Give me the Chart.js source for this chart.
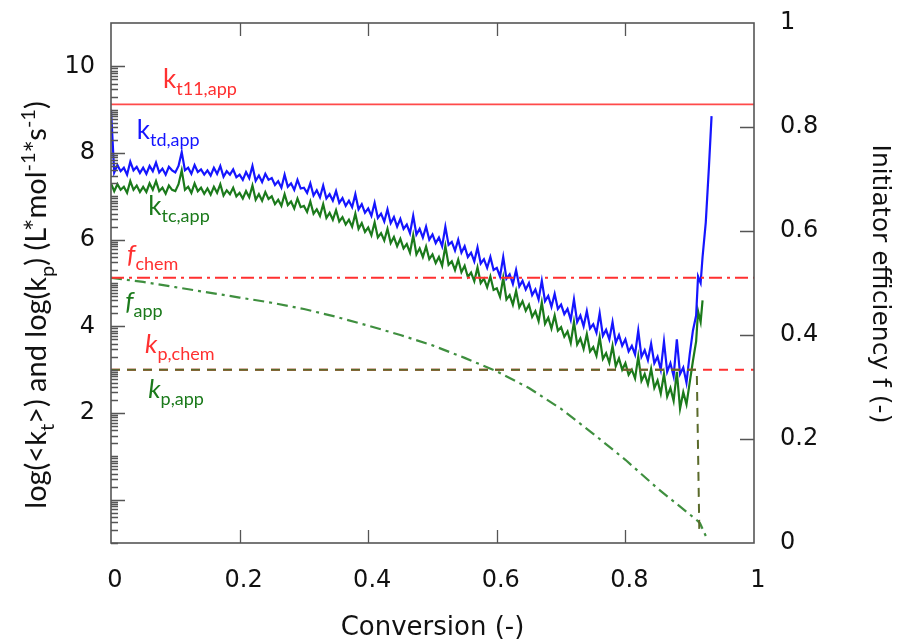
<!DOCTYPE html>
<html>
<head>
<meta charset="utf-8">
<script src="https://cdn.jsdelivr.net/npm/chart.js"></script>
<style>
  html, body { margin: 0; background: #fff; }
  #wrap { width: 901px; height: 641px; position: relative; }
</style>
</head>
<body>
<div id="wrap"><canvas id="c"></canvas></div>
<script>
// --- data ---
// left axis: log(k) values, right axis: initiator efficiency f
const kt11App = 9.12;
const fChem = 0.51;
const kpChem = 3.0;

// conversion grid shared by the two noisy kt curves (0 .. 0.895)
const convGrid = [
  0.000, 0.005, 0.010, 0.015, 0.020, 0.025, 0.030, 0.035, 0.040, 0.045,
  0.050, 0.055, 0.060, 0.065, 0.070, 0.075, 0.080, 0.085, 0.090, 0.095,
  0.100, 0.105, 0.110, 0.115, 0.120, 0.125, 0.130, 0.135, 0.140, 0.145,
  0.150, 0.155, 0.160, 0.165, 0.170, 0.175, 0.180, 0.185, 0.190, 0.195,
  0.200, 0.205, 0.210, 0.215, 0.220, 0.225, 0.230, 0.235, 0.240, 0.245,
  0.250, 0.255, 0.260, 0.265, 0.270, 0.275, 0.280, 0.285, 0.290, 0.295,
  0.300, 0.305, 0.310, 0.315, 0.320, 0.325, 0.330, 0.335, 0.340, 0.345,
  0.350, 0.355, 0.360, 0.365, 0.370, 0.375, 0.380, 0.385, 0.390, 0.395,
  0.400, 0.405, 0.410, 0.415, 0.420, 0.425, 0.430, 0.435, 0.440, 0.445,
  0.450, 0.455, 0.460, 0.465, 0.470, 0.475, 0.480, 0.485, 0.490, 0.495,
  0.500, 0.505, 0.510, 0.515, 0.520, 0.525, 0.530, 0.535, 0.540, 0.545,
  0.550, 0.555, 0.560, 0.565, 0.570, 0.575, 0.580, 0.585, 0.590, 0.595,
  0.600, 0.605, 0.610, 0.615, 0.620, 0.625, 0.630, 0.635, 0.640, 0.645,
  0.650, 0.655, 0.660, 0.665, 0.670, 0.675, 0.680, 0.685, 0.690, 0.695,
  0.700, 0.705, 0.710, 0.715, 0.720, 0.725, 0.730, 0.735, 0.740, 0.745,
  0.750, 0.755, 0.760, 0.765, 0.770, 0.775, 0.780, 0.785, 0.790, 0.795,
  0.800, 0.805, 0.810, 0.815, 0.820, 0.825, 0.830, 0.835, 0.840, 0.845,
  0.850, 0.855, 0.860, 0.865, 0.870, 0.875, 0.880, 0.885, 0.890, 0.895];

// k_td,app (blue) on convGrid, then the steep rise at the end
const ktdY = [
  9.00, 7.55, 7.72, 7.58, 7.66, 7.50, 7.80, 7.60, 7.68, 7.54,
  7.66, 7.52, 7.70, 7.58, 7.78, 7.55, 7.64, 7.50, 7.68, 7.60,
  7.55, 7.70, 8.02, 7.60, 7.66, 7.52, 7.72, 7.56, 7.62, 7.50,
  7.60, 7.48, 7.66, 7.52, 7.70, 7.45, 7.58, 7.50, 7.62, 7.44,
  7.50, 7.38, 7.56, 7.42, 7.70, 7.36, 7.48, 7.33, 7.52, 7.38,
  7.42, 7.26, 7.35, 7.20, 7.50, 7.22, 7.30, 7.15, 7.38, 7.18,
  7.20, 7.08, 7.30, 7.02, 7.14, 6.98, 7.25, 6.95, 7.05, 6.90,
  7.12, 6.85, 6.96, 6.78, 6.90, 6.75, 7.05, 6.70, 6.82, 6.62,
  6.72, 6.55, 6.85, 6.50, 6.60, 6.42, 6.70, 6.38, 6.52, 6.30,
  6.48, 6.25, 6.35, 6.15, 6.55, 6.12, 6.25, 6.05, 6.30, 6.00,
  6.12, 5.92, 6.05, 5.85, 6.30, 5.88, 5.95, 5.75, 6.00, 5.70,
  5.85, 5.60, 5.70, 5.50, 5.82, 5.45, 5.55, 5.35, 5.60, 5.30,
  5.35, 5.15, 5.60, 5.10, 5.20, 4.98, 5.30, 4.92, 5.05, 4.85,
  5.00, 4.72, 4.85, 4.62, 5.05, 4.58, 4.70, 4.45, 4.75, 4.40,
  4.50, 4.28, 4.40, 4.15, 4.62, 4.10, 4.25, 4.00, 4.35, 3.95,
  4.05, 3.85, 4.30, 3.78, 3.92, 3.70, 4.10, 3.62, 3.80, 3.55,
  3.70, 3.42, 3.55, 3.35, 3.90, 3.30, 3.45, 3.22, 3.60, 3.15,
  3.30, 3.00, 3.65, 2.95, 3.15, 2.85, 3.70, 2.90, 3.05, 2.70];
const ktdEndX = [0.900, 0.905, 0.910, 0.913, 0.917, 0.920, 0.925, 0.930, 0.934];
const ktdEndY = [3.35, 3.90, 4.25, 5.15, 5.00, 5.60, 6.40, 7.70, 8.85];

// k_tc,app (green) on convGrid, then its shorter rise
const ktcY = [
  7.30, 7.12, 7.28, 7.15, 7.22, 7.08, 7.35, 7.15, 7.25, 7.10,
  7.22, 7.10, 7.30, 7.15, 7.35, 7.12, 7.20, 7.06, 7.25, 7.15,
  7.12, 7.28, 7.60, 7.15, 7.22, 7.08, 7.30, 7.12, 7.20, 7.06,
  7.18, 7.04, 7.22, 7.08, 7.28, 7.02, 7.14, 7.05, 7.20, 7.00,
  7.08, 6.95, 7.12, 6.98, 7.25, 6.92, 7.05, 6.90, 7.10, 6.94,
  7.00, 6.82, 6.92, 6.78, 7.05, 6.80, 6.88, 6.72, 6.95, 6.75,
  6.78, 6.64, 6.88, 6.60, 6.70, 6.55, 6.82, 6.50, 6.62, 6.46,
  6.68, 6.42, 6.52, 6.35, 6.46, 6.30, 6.60, 6.25, 6.38, 6.18,
  6.28, 6.10, 6.40, 6.05, 6.15, 5.98, 6.25, 5.92, 6.06, 5.85,
  6.02, 5.80, 5.90, 5.70, 6.10, 5.66, 5.80, 5.60, 5.84, 5.55,
  5.66, 5.46, 5.60, 5.40, 5.85, 5.42, 5.50, 5.30, 5.54, 5.25,
  5.40, 5.14, 5.24, 5.04, 5.36, 5.00, 5.10, 4.90, 5.15, 4.84,
  4.88, 4.68, 5.12, 4.62, 4.72, 4.50, 4.82, 4.44, 4.58, 4.36,
  4.50, 4.22, 4.35, 4.12, 4.55, 4.06, 4.20, 3.95, 4.25, 3.90,
  3.98, 3.76, 3.88, 3.62, 4.10, 3.58, 3.72, 3.48, 3.82, 3.42,
  3.52, 3.32, 3.75, 3.25, 3.38, 3.16, 3.55, 3.08, 3.26, 3.00,
  3.15, 2.88, 3.00, 2.80, 3.30, 2.74, 2.90, 2.66, 3.02, 2.58,
  2.75, 2.45, 2.90, 2.38, 2.58, 2.28, 2.95, 2.10, 2.48, 2.20];
const ktcEndX = [0.900, 0.905, 0.910, 0.913, 0.917, 0.920];
const ktcEndY = [2.70, 3.20, 3.65, 4.35, 4.10, 4.60];

// f_app (right axis)
const fAppX = [0, 0.05, 0.1, 0.15, 0.2, 0.25, 0.3, 0.35, 0.4, 0.45, 0.5, 0.55,
  0.6, 0.65, 0.7, 0.75, 0.8, 0.85, 0.88, 0.9, 0.91, 0.916, 0.922, 0.928];
const fAppY = [0.51, 0.502, 0.492, 0.482, 0.472, 0.462, 0.45, 0.435, 0.418, 0.4, 0.38, 0.356,
  0.33, 0.298, 0.258, 0.21, 0.16, 0.105, 0.075, 0.055, 0.045, 0.038, 0.022, 0.005];

// k_p,app (left axis)
const kpAppX = [0, 0.911, 0.915];
const kpAppY = [3.0, 3.0, -0.75];

const xTicks = [0, 0.2, 0.4, 0.6, 0.8, 1];
const leftTickLabels = [2, 4, 6, 8, 10];
const rightTicks = [0, 0.2, 0.4, 0.6, 0.8, 1];

const RED = '#ff3030', BLUE = '#1515ff', GREEN = '#1b7a1b';

const pts = (xs, ys) => xs.map((x, i) => ({ x: x, y: ys[i] }));

// text labels placed in data coordinates (x, left axis value)
const labels = [
  { x: 0.081, y: 9.50, color: RED, segs: [{ t: 'k' }, { t: 't11,app', k: 'sub' }] },
  { x: 0.040, y: 8.32, color: BLUE, segs: [{ t: 'k' }, { t: 'td,app', k: 'sub' }] },
  { x: 0.058, y: 6.57, color: GREEN, segs: [{ t: 'k' }, { t: 'tc,app', k: 'sub' }] },
  { x: 0.025, y: 5.46, color: RED, segs: [{ t: 'f', it: true }, { t: 'chem', k: 'sub' }] },
  { x: 0.022, y: 4.38, color: GREEN, segs: [{ t: 'f', it: true }, { t: 'app', k: 'sub' }] },
  { x: 0.053, y: 3.38, color: RED, segs: [{ t: 'k', it: true }, { t: 'p,chem', k: 'sub' }] },
  { x: 0.058, y: 2.35, color: GREEN, segs: [{ t: 'k', it: true }, { t: 'p,app', k: 'sub' }] }
];

function richWidth(ctx, segs, fam, size, subSize) {
  let w = 0;
  segs.forEach(s => {
    const sz = s.k ? subSize : size;
    ctx.font = (s.it ? 'italic ' : '') + sz + 'px ' + fam;
    w += ctx.measureText(s.t).width;
  });
  return w;
}

function drawRich(ctx, segs, x, y, rot, fam, size, subSize, color) {
  ctx.save();
  ctx.translate(x, y);
  ctx.rotate(rot);
  ctx.fillStyle = color;
  ctx.textAlign = 'left';
  ctx.textBaseline = 'alphabetic';
  let cx = 0;
  segs.forEach(s => {
    const sz = s.k ? subSize : size;
    ctx.font = (s.it ? 'italic ' : '') + sz + 'px ' + fam;
    const dy = s.k === 'sub' ? size * 0.27 : s.k === 'sup' ? -size * 0.38 : 0;
    ctx.fillText(s.t, cx, dy);
    cx += ctx.measureText(s.t).width;
  });
  ctx.restore();
}

const framePlugin = {
  id: 'frame',
  afterDatasetsDraw(chart) {
    const ctx = chart.ctx;
    const a = chart.chartArea;
    const sx = chart.scales.x, sy = chart.scales.y, sr = chart.scales.y1;
    ctx.save();
    ctx.strokeStyle = '#555';
    ctx.lineWidth = 1.6;
    ctx.strokeRect(a.left, a.top, a.right - a.left, a.bottom - a.top);

    ctx.lineWidth = 1.3;
    ctx.beginPath();
    xTicks.slice(1, -1).forEach(v => {
      const px = Math.round(sx.getPixelForValue(v)) + 0.5;
      ctx.moveTo(px, a.bottom); ctx.lineTo(px, a.bottom - 13);
      ctx.moveTo(px, a.top); ctx.lineTo(px, a.top + 13);
    });
    rightTicks.slice(1, -1).forEach(v => {
      const py = Math.round(sr.getPixelForValue(v)) + 0.5;
      ctx.moveTo(a.right, py); ctx.lineTo(a.right - 14, py);
    });
    // left axis: log-style decade ticks
    for (let n = -1; n <= 9; n++) {
      for (let m = 1; m <= 9; m++) {
        const v = n + Math.log10(m);
        const major = m === 1 && n % 2 === 0;
        const py = Math.round(sy.getPixelForValue(v)) + 0.5;
        ctx.moveTo(a.left, py); ctx.lineTo(a.left + (major ? 14 : 7), py);
      }
    }
    const py10 = Math.round(sy.getPixelForValue(10)) + 0.5;
    ctx.moveTo(a.left, py10); ctx.lineTo(a.left + 14, py10);
    ctx.stroke();

    // curve labels
    labels.forEach(l => {
      drawRich(ctx, l.segs, sx.getPixelForValue(l.x), sy.getPixelForValue(l.y), 0,
        'Lato', 26, 18, l.color);
    });

    // axis titles
    ctx.fillStyle = '#111';
    ctx.font = '26px "DejaVu Sans"';
    ctx.textAlign = 'center';
    ctx.textBaseline = 'alphabetic';
    ctx.fillText('Conversion (-)', (a.left + a.right) / 2, 635);

    ctx.save();
    ctx.translate(879, 284);
    ctx.rotate(Math.PI / 2);
    ctx.font = '25px "DejaVu Sans"';
    ctx.textBaseline = 'middle';
    ctx.fillText('Initiator efficiency f (-)', 0, 0);
    ctx.restore();

    const leftTitle = [
      { t: 'log(<k' }, { t: 't', k: 'sub' }, { t: '>) and log(k' }, { t: 'p', k: 'sub' },
      { t: ') (L*mol' }, { t: '-1', k: 'sup' }, { t: '*s' }, { t: '-1', k: 'sup' }, { t: ')' }
    ];
    const w = richWidth(ctx, leftTitle, 'Lato', 29, 20);
    drawRich(ctx, leftTitle, 46, 305 + w / 2, -Math.PI / 2, 'Lato', 29, 20, '#111');
    ctx.restore();
  }
};

const tickFont = { family: 'DejaVu Sans', size: 24 };
const fmt = v => String(Math.round(v * 10) / 10);

new Chart(document.getElementById('c'), {
  type: 'line',
  data: {
    datasets: [
      { data: pts([0, 1], [kt11App, kt11App]), borderColor: '#ff4a4a', borderWidth: 1.8, yAxisID: 'y' },
      { data: pts([0, 1], [fChem, fChem]), borderColor: RED, borderWidth: 2, borderDash: [13, 5, 3, 5], yAxisID: 'y1' },
      { data: pts(kpAppX, kpAppY), borderColor: '#5a6a2a', borderWidth: 2, borderDash: [9, 7], yAxisID: 'y' },
      { data: pts([0, 1], [kpChem, kpChem]), borderColor: RED, borderWidth: 2, borderDash: [9, 7], yAxisID: 'y' },
      { data: pts(convGrid.concat(ktdEndX), ktdY.concat(ktdEndY)), borderColor: BLUE, borderWidth: 2.2, yAxisID: 'y' },
      { data: pts(convGrid.concat(ktcEndX), ktcY.concat(ktcEndY)), borderColor: GREEN, borderWidth: 2.2, yAxisID: 'y' },
      { data: pts(fAppX, fAppY), borderColor: '#3f8f3f', borderWidth: 2.2, borderDash: [11, 5, 3, 5], yAxisID: 'y1' }
    ]
  },
  options: {
    responsive: true,
    maintainAspectRatio: false,
    animation: false,
    layout: { padding: { top: 23, left: 0, right: 0, bottom: 0 } },
    elements: { point: { radius: 0 }, line: { tension: 0, fill: false } },
    plugins: { legend: { display: false }, tooltip: { enabled: false } },
    scales: {
      x: {
        type: 'linear', min: 0, max: 1,
        grid: { display: false, drawTicks: false }, border: { display: false },
        afterBuildTicks: s => { s.ticks = xTicks.map(v => ({ value: v })); },
        ticks: { font: tickFont, color: '#111', padding: 23, labelOffset: 4, autoSkip: false, maxRotation: 0, callback: fmt },
        afterFit: s => { s.height = 98; s.paddingLeft = 0; s.paddingRight = 0; }
      },
      y: {
        type: 'linear', position: 'left', min: -1, max: 11,
        grid: { display: false, drawTicks: false }, border: { display: false },
        afterBuildTicks: s => { s.ticks = leftTickLabels.map(v => ({ value: v })); },
        ticks: { font: tickFont, color: '#111', padding: 16, autoSkip: false, callback: fmt },
        afterFit: s => { s.width = 111; s.paddingTop = 0; s.paddingBottom = 0; }
      },
      y1: {
        type: 'linear', position: 'right', min: 0, max: 1,
        grid: { display: false, drawTicks: false }, border: { display: false },
        afterBuildTicks: s => { s.ticks = rightTicks.map(v => ({ value: v })); },
        ticks: { font: tickFont, color: '#111', padding: 26, autoSkip: false, callback: fmt },
        afterFit: s => { s.width = 147; s.paddingTop = 0; s.paddingBottom = 0; }
      }
    }
  },
  plugins: [framePlugin]
});
</script>
</body>
</html>
